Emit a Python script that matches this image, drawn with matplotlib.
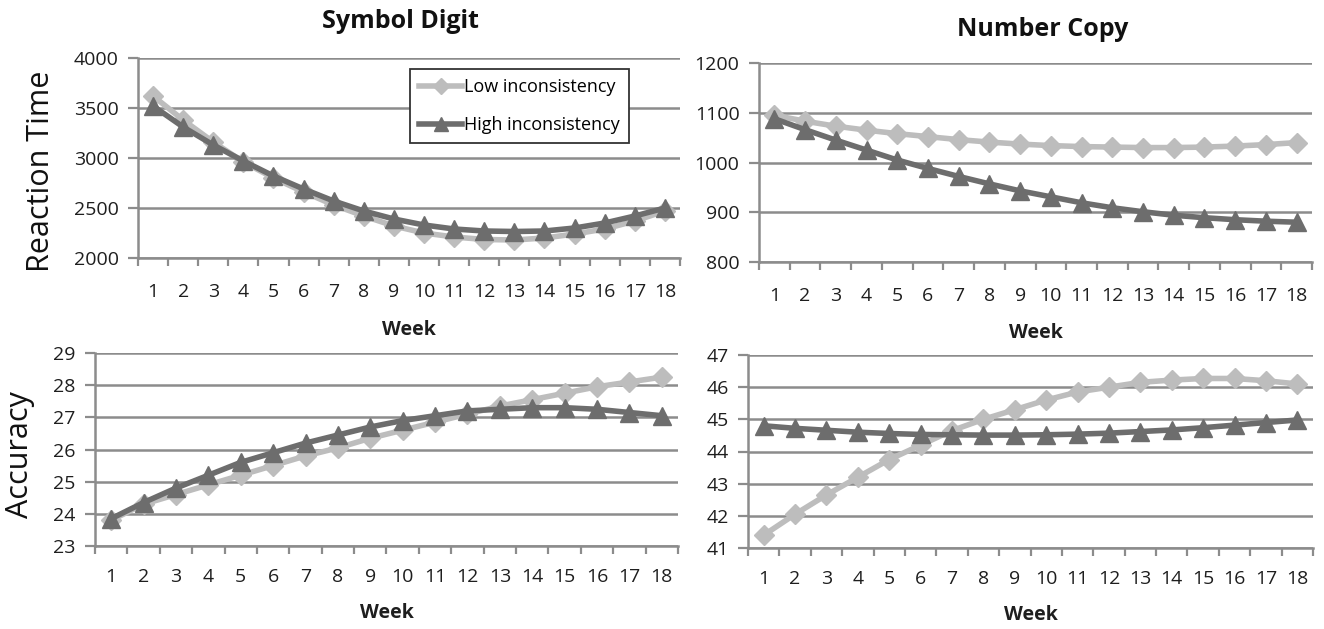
import matplotlib
matplotlib.use("Agg")
import matplotlib.pyplot as plt
import numpy as np

plt.rcParams['font.family'] = ['Open Sans', 'DejaVu Sans']

weeks = list(range(1, 19))
week_labels = [str(w) for w in weeks]

sd_rt_low = [3620, 3380, 3160, 2960, 2800, 2660, 2530, 2420, 2320, 2250, 2210, 2185, 2180, 2200, 2240, 2290, 2370, 2470]
sd_rt_high = [3520, 3310, 3130, 2970, 2820, 2690, 2570, 2470, 2390, 2330, 2290, 2270, 2265, 2270, 2300, 2350, 2420, 2500]

nc_rt_low = [1095, 1083, 1073, 1065, 1058, 1052, 1046, 1041, 1037, 1034, 1032, 1031, 1030, 1030, 1031, 1033, 1036, 1040]
nc_rt_high = [1088, 1066, 1045, 1025, 1005, 988, 972, 957, 943, 931, 919, 909, 901, 894, 889, 885, 882, 880]

sd_acc_low = [23.8, 24.3, 24.6, 24.9, 25.2, 25.5, 25.8, 26.05, 26.35, 26.6, 26.85, 27.1, 27.35, 27.55, 27.75, 27.95, 28.1, 28.25]
sd_acc_high = [23.85, 24.35, 24.8, 25.2, 25.6, 25.9, 26.2, 26.45, 26.7, 26.9, 27.05, 27.2, 27.25, 27.3, 27.3, 27.25, 27.15, 27.05]

nc_acc_low = [41.4, 42.05, 42.65, 43.2, 43.75, 44.2, 44.65, 45.0, 45.3, 45.6, 45.85, 46.0, 46.15, 46.22, 46.27, 46.27, 46.2, 46.1]
nc_acc_high = [44.8, 44.72, 44.66, 44.6, 44.56, 44.53, 44.52, 44.51, 44.51, 44.52, 44.54, 44.57, 44.62, 44.67, 44.74, 44.82, 44.9, 44.98]

series_names = ["Low inconsistency", "High inconsistency"]
LIGHT = "#bdbdbd"
DARK = "#6d6d6d"
GRID = "#8c8c8c"
TXT = "#1e1e1e"

W, H = 1324, 629
fig = plt.figure(figsize=(W / 100, H / 100), dpi=100)


def rect_px(x0, x1, ytop, ybot):
    return [x0 / W, 1 - ybot / H, (x1 - x0) / W, (ybot - ytop) / H]


panels = [
    (rect_px(138, 680, 58, 258), sd_rt_low, sd_rt_high, (2000, 4000), 500, 18, 14),
    (rect_px(759, 1312, 63, 262), nc_rt_low, nc_rt_high, (800, 1200), 100, 18, 13),
    (rect_px(95, 678, 353, 546), sd_acc_low, sd_acc_high, (23, 29), 1, 16, 12),
    (rect_px(748, 1313, 355, 548), nc_acc_low, nc_acc_high, (41, 47), 1, 16, 12),
]

axes = []
for rect, low, high, ylim, step, tpad, lpad in panels:
    ax = fig.add_axes(rect)
    axes.append(ax)
    ax.plot(weeks, low, color=LIGHT, lw=4, marker='D', ms=10, mfc=LIGHT, mec=LIGHT,
            label=series_names[0], zorder=3)
    ax.plot(weeks, high, color=DARK, lw=4, marker='^', ms=12.5, mfc=DARK, mec=DARK,
            label=series_names[1], zorder=4)
    ax.set_xlim(0.5, 18.5)
    ax.set_ylim(*ylim)
    ax.set_yticks(np.arange(ylim[0], ylim[1] + step / 2, step))
    ax.set_xticks(weeks)
    ax.set_xticklabels(week_labels)
    ax.set_xticks(np.arange(0.5, 18.6, 1), minor=True)
    ax.tick_params(axis='x', which='major', length=0, labelsize=14, pad=tpad, colors=TXT)
    ax.tick_params(axis='x', which='minor', length=6, width=1.6, color=GRID, direction='out')
    ax.tick_params(axis='y', length=7, width=1.6, color=GRID, labelsize=14, labelcolor=TXT, pad=7)
    ax.grid(axis='y', color=GRID, lw=1.8)
    ax.set_axisbelow(True)
    for s in ['top', 'right']:
        ax.spines[s].set_visible(False)
    for s in ['left', 'bottom']:
        ax.spines[s].set_color(GRID)
        ax.spines[s].set_linewidth(1.8)
    ax.set_xlabel("Week", fontsize=14, fontweight='bold', labelpad=lpad, color=TXT)

fig.text(400 / W, 1 - 22 / H, "Symbol Digit", fontsize=18, fontweight='bold',
         ha='center', va='center', color='#111111')
fig.text(1043 / W, 1 - 30 / H, "Number Copy", fontsize=18, fontweight='bold',
         ha='center', va='center', color='#111111')
fig.text(41 / W, 1 - 171 / H, "Reaction Time", fontsize=22, rotation=90,
         ha='center', va='center', color='#111111')
fig.text(20 / W, 1 - 455 / H, "Accuracy", fontsize=22, rotation=90,
         ha='center', va='center', color='#111111')

leg = axes[0].legend(loc='upper left', bbox_to_anchor=(0.502, 0.945), borderaxespad=0,
                     fontsize=13, frameon=True, fancybox=False, edgecolor='#333333',
                     framealpha=1, handlelength=2.4, borderpad=0.5, labelspacing=1.1,
                     handletextpad=0.1, markerscale=0.8)
leg.get_frame().set_linewidth(1.3)

fig.savefig("out.png", dpi=100, facecolor='white')
